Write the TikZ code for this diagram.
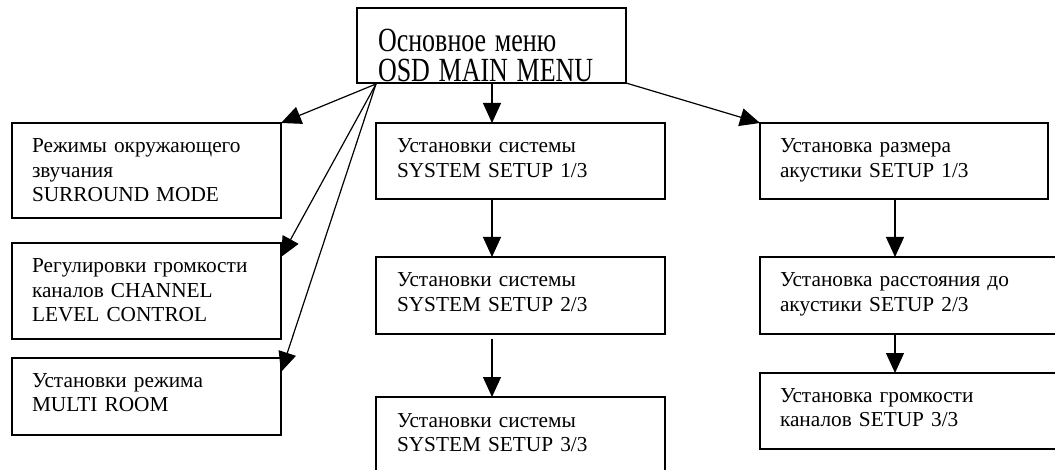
\documentclass[tikz,border=0pt]{standalone}
\usepackage{fontspec}
\setmainfont{Liberation Serif}
\usetikzlibrary{arrows.meta}
\tikzset{
  box/.style={draw=black, line width=1.3pt, rectangle, inner sep=0pt, outer sep=0pt, anchor=north west},
  txt/.style={inner sep=0pt, outer sep=0pt, anchor=base west, text width=300pt, align=left,
    font=\fontsize{21.3}{24.5}\selectfont},
  bigtxt/.style={inner sep=0pt, outer sep=0pt, anchor=base west, text width=300pt, align=left,
    font=\fontsize{26}{30}\selectfont},
  conn/.style={line width=1.2pt, -{Triangle[length=20pt,width=18pt]}}
}
\begin{document}
\begin{tikzpicture}[x=1pt,y=-1pt]
\useasboundingbox (0,0) rectangle (1055,470);
\clip (0,0) rectangle (1055,470);
% boxes
\node[box, minimum width=269pt, minimum height=75pt] (main) at (357,8) {};
\node[box, minimum width=269pt, minimum height=95pt] (b1) at (12,123) {};
\node[box, minimum width=269pt, minimum height=96pt] (b2) at (12,243) {};
\node[box, minimum width=269pt, minimum height=77pt] (b3) at (12,358) {};
\node[box, minimum width=289pt, minimum height=76pt] (m1) at (376,123) {};
\node[box, minimum width=289pt, minimum height=77pt] (m2) at (376,257) {};
\node[box, minimum width=289pt, minimum height=100pt] (m3) at (376,397) {};
\node[box, minimum width=288pt, minimum height=76pt] (r1) at (760,123) {};
\node[box, minimum width=320pt, minimum height=77pt] (r2) at (760,257) {};
\node[box, minimum width=320pt, minimum height=76pt] (r3) at (760,373) {};
% texts
\node[bigtxt] (tmain) at (378,52) {\lineskiplimit=-40pt\relax \scalebox{1}[1.3]{Основное меню}\par\scalebox{1}[1.3]{OSD MAIN MENU}};
\node[txt] (tb1) at (32,153) {Режимы окружающего\\звучания\\SURROUND MODE};
\node[txt] (tb2) at (32,273) {Регулировки громкости\\каналов CHANNEL\\LEVEL CONTROL};
\node[txt] (tb3) at (32,387) {Установки режима\\MULTI ROOM};
\node[txt] (tm1) at (397,153) {Установки системы\\SYSTEM SETUP 1/3};
\node[txt] (tm2) at (397,287) {Установки системы\\SYSTEM SETUP 2/3};
\node[txt] (tm3) at (397,427) {Установки системы\\SYSTEM SETUP 3/3};
\node[txt] (tr1) at (780,153) {Установка размера\\акустики SETUP 1/3};
\node[txt] (tr2) at (780,287) {Установка расстояния до\\акустики SETUP 2/3};
\node[txt] (tr3) at (780,402) {Установка громкости\\каналов SETUP 3/3};
% connectors
\coordinate (mL) at ([xshift=19pt,yshift=-1pt]main.south west);
\draw[conn] (mL) -- (b1.north east);
\draw[conn] (mL) -- ([yshift=-14pt]b2.north east);
\draw[conn] (mL) -- ([yshift=-14pt]b3.north east);
\draw[conn] ([xshift=135pt]main.south west) -- ([xshift=135pt]main.south west |- m1.north);
\draw[conn] ([xshift=135pt]main.south west |- m1.south) -- ([xshift=135pt]main.south west |- m2.north);
\draw[conn] ([xshift=135pt,yshift=-5pt]main.south west |- m2.south) -- ([xshift=135pt]main.south west |- m3.north);
\draw[conn] (main.south east) -- (r1.north west);
\draw[conn] ([xshift=135pt]r1.south west) -- ([xshift=135pt]r1.south west |- r2.north);
\draw[conn] ([xshift=135pt]r2.south west) -- ([xshift=135pt]r2.south west |- r3.north);
\end{tikzpicture}
\end{document}
